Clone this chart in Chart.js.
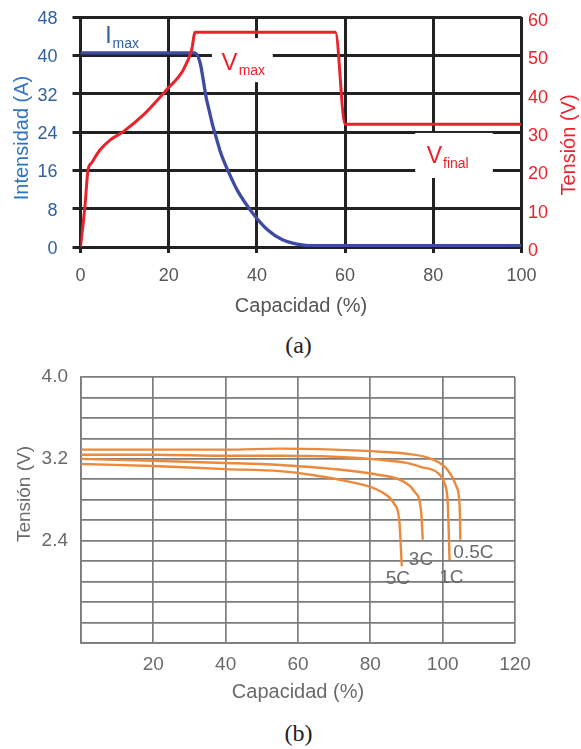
<!DOCTYPE html>
<html>
<head>
<meta charset="utf-8">
<script src="https://cdn.jsdelivr.net/npm/chart.js@4.4.1/dist/chart.umd.min.js"></script>
<style>
html, body { margin: 0; padding: 0; background: #fff; }
#page { position: relative; width: 581px; height: 749px; overflow: hidden; }
.wrap { position: absolute; left: 0; width: 581px; }
#wrap-a { top: 0; height: 320px; }
#wrap-b { top: 360px; height: 350px; }
.cap { position: absolute; left: 0; width: 597px; text-align: center; font-family: 'Liberation Serif', serif; font-size: 24px; color: #222; line-height: 28px; }
</style>
</head>
<body>
<div id="page">
  <div class="wrap" id="wrap-a"><canvas id="chart-a"></canvas></div>
  <div class="cap" style="top:331px">(a)</div>
  <div class="wrap" id="wrap-b"><canvas id="chart-b"></canvas></div>
  <div class="cap" style="top:719px">(b)</div>
</div>
<script>
// (a) carga: capacidad (%) vs intensidad (A) y tensión (V)
const CAP_I = [0, 25.9, 27.1, 28.6, 31.6, 33.9, 35.7, 39.1, 42.4, 45.8, 49.2, 51.7, 100];
const CURRENT = [40.5, 40.5, 38.5, 30.7, 20.2, 15.0, 11.6, 7.0, 3.6, 1.5, 0.6, 0.3, 0.3];
const CAP_V = [0, 1, 1.7, 2.5, 4.4, 6.7, 9.7, 14.2, 19.5, 23.3, 25.2, 26, 57.8, 60, 100];
const VOLTAGE = [0, 10.5, 20, 21.9, 25.3, 27.9, 30.1, 34.4, 41, 46.2, 51.4, 56, 56, 32, 32];

// (b) descarga a distintas tasas
const RATES = ['0.5C', '1C', '3C', '5C'];
const CAP_05C = [0, 20, 40, 55, 70, 82.9, 90, 96.8, 101.4, 103.8, 104.7, 104.9];
const V_05C = [3.29, 3.29, 3.29, 3.30, 3.29, 3.27, 3.25, 3.20, 3.09, 2.93, 2.73, 2.41];
const CAP_1C = [0, 20, 40, 55, 70, 82.9, 90, 94, 98.7, 100.5, 101.4, 101.9];
const V_1C = [3.24, 3.24, 3.23, 3.23, 3.22, 3.19, 3.16, 3.12, 3.06, 2.96, 2.77, 2.21];
const CAP_3C = [0, 20, 40, 55, 70, 82.9, 88.5, 92.2, 94, 94.5];
const V_3C = [3.20, 3.18, 3.16, 3.14, 3.10, 3.04, 2.99, 2.88, 2.70, 2.41];
const CAP_5C = [0, 20, 40, 55, 64.4, 73.7, 82.9, 86.6, 88, 88.7];
const V_5C = [3.15, 3.13, 3.10, 3.08, 3.04, 2.98, 2.88, 2.76, 2.60, 2.15];

const X_LABELS_B = [20, 40, 60, 80, 100, 120];
const Y_LABELS_B = ['4.0', '3.2', '2.4'];

const BLUE = '#3d4ba5';
const BLUE_TXT = '#33609f';
const RED = '#e8232b';
const ORANGE = '#eb8a3c';
const GREY = '#6a6a6a';

Chart.defaults.font.family = "'Liberation Sans', Arial, sans-serif";
Chart.defaults.animation = false;

const pts = (xs, ys) => xs.map((x, i) => ({x: x, y: ys[i]}));

// fixed axis width, and don't let the tick labels push the plot area down
const fixWidth = w => s => { s.width = w; s.paddingTop = 10; s.paddingBottom = 10; };

// white boxes behind labels + labels with subscripts, anchored in data units
const labelsPlugin = {
  id: 'subLabels',
  beforeDatasetsDraw(chart, args, opts) {
    const {ctx} = chart;
    const xs = chart.scales.x, ys = chart.scales[opts.yId || 'y'];
    for (const b of opts.boxes || []) {
      const x0 = xs.getPixelForValue(b[0]), x1 = xs.getPixelForValue(b[1]);
      const y0 = ys.getPixelForValue(b[3]), y1 = ys.getPixelForValue(b[2]);
      ctx.fillStyle = '#fff';
      ctx.fillRect(x0, y0, x1 - x0, y1 - y0);
    }
  },
  afterDatasetsDraw(chart, args, opts) {
    const {ctx} = chart;
    const xs = chart.scales.x, ys = chart.scales[opts.yId || 'y'];
    for (const t of opts.items || []) {
      const px = xs.getPixelForValue(t.x), py = ys.getPixelForValue(t.y);
      ctx.save();
      ctx.fillStyle = t.color;
      ctx.font = t.font;
      ctx.textAlign = t.sub ? 'left' : 'center';
      ctx.textBaseline = t.sub ? 'alphabetic' : 'middle';
      ctx.fillText(t.text, px, py);
      if (t.sub) {
        const w = ctx.measureText(t.text).width;
        ctx.font = t.subFont;
        ctx.fillText(t.sub, px + w + 1, py + 5);
      }
      ctx.restore();
    }
  }
};

// vertical axis titles reading bottom-to-top
const sideTitles = {
  id: 'sideTitles',
  afterDraw(chart, args, opts) {
    const {ctx, chartArea} = chart;
    const mid = (chartArea.top + chartArea.bottom) / 2;
    for (const t of opts.items || []) {
      ctx.save();
      ctx.translate(t.side === 'left' ? chartArea.left - t.gap : chartArea.right + t.gap, mid + t.shift);
      ctx.rotate(-Math.PI / 2);
      ctx.font = t.font;
      ctx.fillStyle = t.color;
      ctx.textAlign = 'center';
      ctx.textBaseline = 'middle';
      ctx.fillText(t.text, 0, 0);
      ctx.restore();
    }
  }
};

new Chart(document.getElementById('chart-a'), {
  type: 'line',
  data: {
    datasets: [
      {data: pts(CAP_I, CURRENT), yAxisID: 'y', borderColor: BLUE, borderWidth: 3.3,
       pointRadius: 0, cubicInterpolationMode: 'monotone', order: 1},
      {data: pts(CAP_V, VOLTAGE), yAxisID: 'y2', borderColor: RED, borderWidth: 3,
       pointRadius: 0, cubicInterpolationMode: 'monotone', order: 0},
    ],
  },
  options: {
    responsive: true,
    maintainAspectRatio: false,
    layout: {padding: {top: 17, left: 0, right: 0, bottom: 0}},
    plugins: {
      legend: {display: false},
      tooltip: {enabled: false},
      subLabels: {
        yId: 'y',
        boxes: [[29.8, 43.6, 34.4, 43.6], [75.9, 93.5, 14.4, 23.8]],
        items: [
          {text: 'I', sub: 'max', x: 5.6, y: 42.6, color: BLUE_TXT, font: '23px "Liberation Sans"', subFont: '14px "Liberation Sans"'},
          {text: 'V', sub: 'max', x: 32.0, y: 36.9, color: RED, font: '24px "Liberation Sans"', subFont: '14px "Liberation Sans"'},
          {text: 'V', sub: 'final', x: 78.5, y: 17.5, color: RED, font: '23px "Liberation Sans"', subFont: '14px "Liberation Sans"'},
        ],
      },
      sideTitles: {
        items: [
          {text: 'Intensidad (A)', side: 'left', gap: 58.5, shift: 6, color: '#2f74c2', font: '20px "Liberation Sans"'},
          {text: 'Tensión (V)', side: 'right', gap: 47.5, shift: 13, color: RED, font: '20px "Liberation Sans"'},
        ],
      },
    },
    scales: {
      x: {
        type: 'linear', min: 0, max: 100,
        ticks: {stepSize: 20, color: '#555', font: {size: 18}, padding: 12},
        grid: {color: '#222', lineWidth: 3, tickLength: 6},
        border: {color: '#222', width: 3},
        title: {display: true, text: 'Capacidad (%)', color: '#555', font: {size: 20}, padding: {top: 4, bottom: 2}},
        afterFit: s => { s.height = 73; },
      },
      y: {
        position: 'left', min: 0, max: 48,
        ticks: {stepSize: 8, color: BLUE_TXT, font: {size: 18}, padding: 15, labelOffset: 2},
        grid: {color: '#222', lineWidth: 3, tickLength: 8},
        border: {color: '#222', width: 3},
        afterFit: fixWidth(80.5),
      },
      y2: {
        position: 'right', min: 0, max: 60,
        ticks: {stepSize: 10, color: RED, font: {size: 18}, padding: 6.5, labelOffset: 4},
        grid: {display: false, drawTicks: false},
        border: {display: false},
        afterFit: fixWidth(59.5),
      },
    },
  },
  plugins: [labelsPlugin, sideTitles],
});

const rateSet = (xs, ys) => ({
  data: pts(xs, ys), borderColor: ORANGE, borderWidth: 2.4,
  pointRadius: 0, cubicInterpolationMode: 'monotone',
});

new Chart(document.getElementById('chart-b'), {
  type: 'line',
  data: {
    datasets: [
      rateSet(CAP_05C, V_05C),
      rateSet(CAP_1C, V_1C),
      rateSet(CAP_3C, V_3C),
      rateSet(CAP_5C, V_5C),
    ],
  },
  options: {
    responsive: true,
    maintainAspectRatio: false,
    layout: {padding: {top: 17, left: 0, right: 66, bottom: 0}},
    plugins: {
      legend: {display: false},
      tooltip: {enabled: false},
      subLabels: {
        yId: 'y',
        items: [
          {text: RATES[0], x: 108.5, y: 2.28, color: GREY, font: '19px "Liberation Sans"'},
          {text: RATES[1], x: 102.4, y: 2.04, color: GREY, font: '19px "Liberation Sans"'},
          {text: RATES[2], x: 94.0, y: 2.21, color: GREY, font: '19px "Liberation Sans"'},
          {text: RATES[3], x: 87.6, y: 2.03, color: GREY, font: '19px "Liberation Sans"'},
        ],
      },
      sideTitles: {
        items: [
          {text: 'Tensión (V)', side: 'left', gap: 56, shift: -16, color: GREY, font: '19px "Liberation Sans"'},
        ],
      },
    },
    scales: {
      x: {
        type: 'linear', min: 0, max: 120,
        ticks: {
          stepSize: 20, color: GREY, font: {size: 19}, padding: 10,
          callback: v => (X_LABELS_B.includes(v) ? String(v) : ''),
        },
        grid: {color: '#7c7c7c', lineWidth: 1.7, drawTicks: false},
        border: {color: '#7c7c7c', width: 1.7},
        title: {display: true, text: 'Capacidad (%)', color: GREY, font: {size: 20}, padding: {top: 2, bottom: 6}},
        afterFit: s => { s.height = 67; },
      },
      y: {
        min: 1.4, max: 4.0,
        ticks: {
          stepSize: 0.2, autoSkip: false, maxTicksLimit: 40, color: GREY, font: {size: 19}, padding: 13,
          callback: v => (Y_LABELS_B.includes(v.toFixed(1)) ? v.toFixed(1) : ''),
        },
        grid: {color: '#7c7c7c', lineWidth: 1.7, drawTicks: false},
        border: {color: '#7c7c7c', width: 1.7},
        afterFit: fixWidth(81),
      },
    },
  },
  plugins: [labelsPlugin, sideTitles],
});
</script>
</body>
</html>
